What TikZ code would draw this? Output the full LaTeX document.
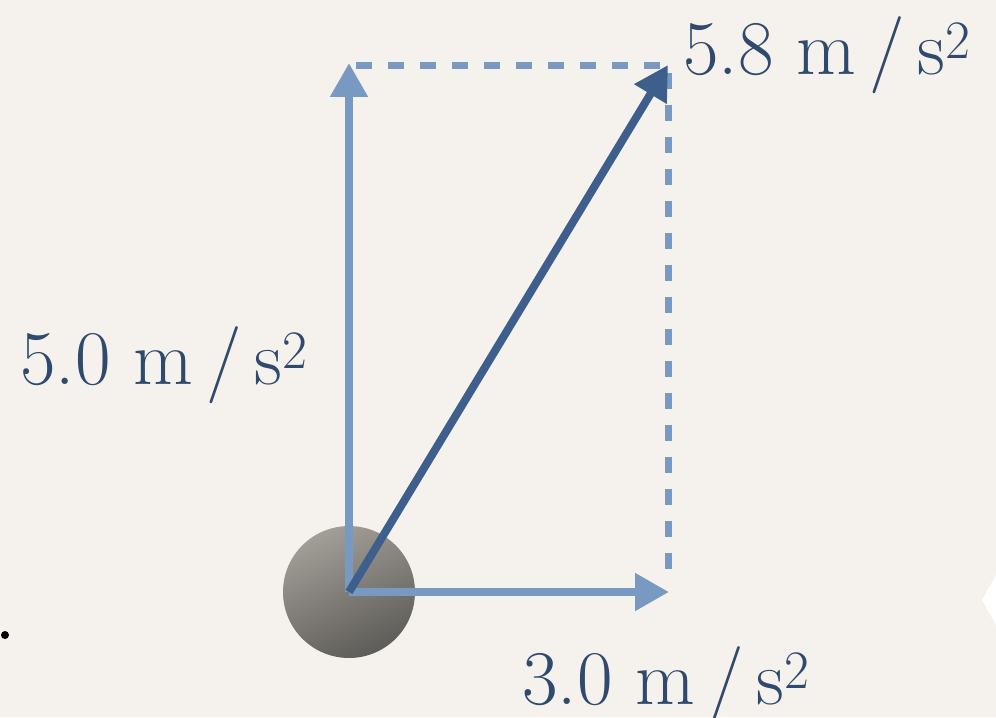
\documentclass[tikz,border=0pt]{standalone}
\usepackage{tikz}
\usetikzlibrary{arrows.meta,positioning}
\definecolor{paper}{RGB}{245,242,237}
\definecolor{compblue}{RGB}{120,154,194}
\definecolor{resblue}{RGB}{62,94,140}
\definecolor{labelblue}{RGB}{47,74,108}
\definecolor{balltop}{RGB}{162,158,152}
\definecolor{ballbot}{RGB}{94,92,88}
\newcommand{\acc}[1]{#1 m\,/\,s\textsuperscript{2}}

\begin{document}
\begin{tikzpicture}[
    x=0.02cm, y=-0.02cm,
    font=\fontsize{44}{48}\selectfont,
    comp/.style={-{Triangle[length=0.68cm, width=0.72cm]}, line width=0.16cm, compblue},
    res/.style={-{Triangle[length=0.68cm, width=0.72cm]}, line width=0.16cm, resblue},
    dashline/.style={line width=0.14cm, compblue, dash pattern=on 0.32cm off 0.32cm},
    lbl/.style={text=labelblue, inner sep=0pt, anchor=base west}
  ]
  \fill[paper] (0,0) rectangle (996,717);
  \useasboundingbox (0,0) rectangle (996,717);
  % ball and corners of the rectangle
  \node[circle, minimum size=2.64cm, inner sep=0pt, top color=balltop, bottom color=ballbot,
        shading angle=25] (ball) at (349,592) {};
  \coordinate (o) at (349,592);
  \coordinate (top) at (349,63);
  \coordinate (right) at (669,592);
  \coordinate (corner) at (668,65);
  \coordinate (gap) at (356,65);
  \draw[dashline] (gap) -- (corner) -- (668,578);
  \draw[comp] (o) -- (top);
  \draw[comp] (o) -- (right);
  \draw[res] (o) -- (corner);
  % labels
  \node[lbl] (ay) at (20,384) {\acc{5.0}};
  \node[lbl] (ax) at (522,704) {\acc{3.0}};
  \node[lbl] (a) at (683,74) {\acc{5.8}};
  % stray marks at the edges
  \fill[black] (5,635) circle (0.08cm);
  \fill[white] (996,575) -- (982,600) -- (996,625) -- cycle;
\end{tikzpicture}
\end{document}
